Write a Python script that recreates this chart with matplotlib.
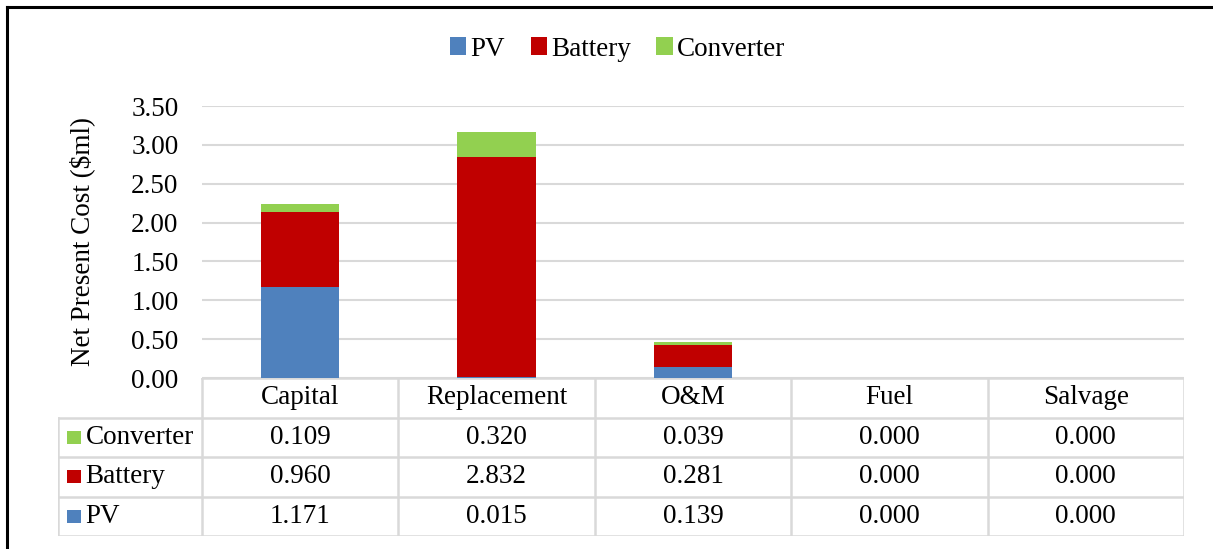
import numpy as np
import matplotlib.pyplot as plt
from matplotlib.lines import Line2D
from matplotlib.patches import Rectangle

plt.rcParams['font.family'] = 'serif'
plt.rcParams['font.serif'] = ['Liberation Serif', 'Times New Roman', 'DejaVu Serif']

categories = ["Capital", "Replacement", "O&M", "Fuel", "Salvage"]
series_names = ["PV", "Battery", "Converter"]
pv = [1.171, 0.015, 0.139, 0.000, 0.000]
battery = [0.960, 2.832, 0.281, 0.000, 0.000]
converter = [0.109, 0.320, 0.039, 0.000, 0.000]
colors = ["#4F81BD", "#C00000", "#92D050"]
grid_col = "#D9D9D9"
fs = 19.5

W, H = 1213, 549
fig = plt.figure(figsize=(W / 100, H / 100), dpi=100)

# frame (only top and left edges visible in the crop)
fig.add_artist(Line2D([7 / W, 1], [1 - 7 / H, 1 - 7 / H], color="black", lw=2.2))
fig.add_artist(Line2D([7 / W, 7 / W], [0, 1 - 7 / H], color="black", lw=2.2))

x0, x1 = 202 / W, 1184 / W
y_base, y_top = 1 - 378 / H, 1 - 106 / H
ax = fig.add_axes([x0, y_base, x1 - x0, y_top - y_base])
x = np.arange(len(categories)) + 0.5
vals = [pv, battery, converter]
bottom = np.zeros(len(categories))
handles = []
for name, v, c in zip(series_names, vals, colors):
    h = ax.bar(x, v, width=0.4, bottom=bottom, color=c, label=name, zorder=3)
    handles.append(h)
    bottom += np.array(v)
ax.set_xlim(0, 5)
ax.set_ylim(0, 3.5)
ax.set_yticks(np.arange(0, 3.51, 0.5))
ax.set_yticklabels([f"{t:.2f}" for t in np.arange(0, 3.51, 0.5)], fontsize=fs)
ax.set_xticks([])
ax.yaxis.grid(True, color=grid_col, lw=1.5, zorder=0)
ax.tick_params(axis="y", length=0, pad=17)
for s in ax.spines.values():
    s.set_visible(False)
ax.set_ylabel("Net Present Cost ($ml)", fontsize=fs, labelpad=26)

fig.legend(handles, series_names, loc="center", bbox_to_anchor=(0.509, 1 - 49 / H),
           ncol=3, frameon=False, fontsize=fs, handlelength=0.6, handleheight=0.6,
           handletextpad=0.15, columnspacing=0.95)

# data table
lab_w = 144 / 196.4
tx0 = 58 / W
tax = fig.add_axes([tx0, 1 - 536 / H, x1 - tx0, (536 - 378) / H])
tax.set_xlim(-lab_w, 5)
tax.set_ylim(0, 4)
tax.axis("off")
lk = dict(color=grid_col, lw=1.8, solid_capstyle="projecting")
tax.plot([0, 5], [4, 4], **lk)
for yy in [0, 1, 2, 3]:
    tax.plot([-lab_w, 5], [yy, yy], **lk)
for xx in range(6):
    tax.plot([xx, xx], [0, 4], **lk)
tax.plot([-lab_w, -lab_w], [0, 3], **lk)
for i, c in enumerate(categories):
    tax.text(i + 0.5, 3.5, c, ha="center", va="center", fontsize=fs)
rows = [("Converter", converter, colors[2]), ("Battery", battery, colors[1]), ("PV", pv, colors[0])]
for r, (name, v, c) in enumerate(rows):
    yc = 2.5 - r
    tax.add_patch(Rectangle((-lab_w + 0.045, yc - 0.17), 0.07, 0.34, color=c, lw=0))
    tax.text(-lab_w + 0.14, yc, name, ha="left", va="center", fontsize=fs)
    for i, val in enumerate(v):
        tax.text(i + 0.5, yc, f"{val:.3f}", ha="center", va="center", fontsize=fs)

fig.savefig("out.png", dpi=100)
